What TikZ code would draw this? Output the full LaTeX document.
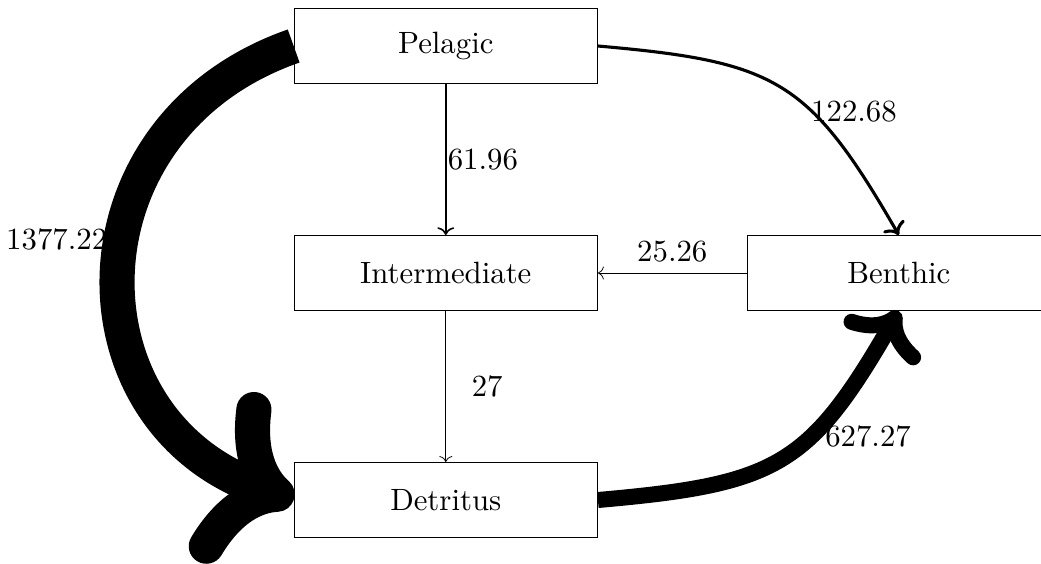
\documentclass[tikz,border=0pt]{standalone}
\usetikzlibrary{arrows.meta}
\begin{document}
\begin{tikzpicture}[x=0.3247pt, y=-0.3247pt,
  box/.style={draw, line width=0.4pt, minimum width=98.4pt, minimum height=24.3pt, inner sep=0pt},
  flow/.style={-{Computer Modern Rightarrow[length=1.33pt 2.3, width=3pt 4.86]}, line cap=butt},
  lbl/.style={inner sep=3.33pt}]
\useasboundingbox (0,0) rectangle (1041,563);

% compartments
\node[box] (P) at (445.8,46)  {Pelagic};
\node[box] (I) at (445.8,273) {Intermediate};
\node[box] (B) at (898.8,273) {Benthic};
\node[box] (D) at (445.8,500) {Detritus};

% flows, line width proportional to the flux
\draw[flow, line width=0.51pt] (P.south) -- node[lbl, right, inner sep=0.4pt] {61.96} (I.north);
\draw[flow, line width=0.25pt] (I.south) -- node[lbl, right, xshift=5pt] {27} (D.north);
\draw[flow, line width=0.25pt] (B.west) -- node[lbl, above] {25.26} (I.east);
\draw[flow, line width=1.01pt] (P.east) .. controls (776.6,61.7) and (809,79.4) ..
  node[lbl, right, pos=0.6, xshift=-2pt, yshift=-2pt] {122.68} (B.north);
\draw[flow, line width=5.2pt] (D.east) .. controls (776.6,484.3) and (809,466.6) ..
  node[lbl, right, pos=0.62, xshift=-1pt] {627.27} (B.south);
\draw[flow, line width=11.4pt] (P.west) .. controls (64,126) and (64,420) ..
  node[lbl, left, pos=0.44, xshift=3.6pt, behind path] {1377.22} (D.west);
\end{tikzpicture}
\end{document}
